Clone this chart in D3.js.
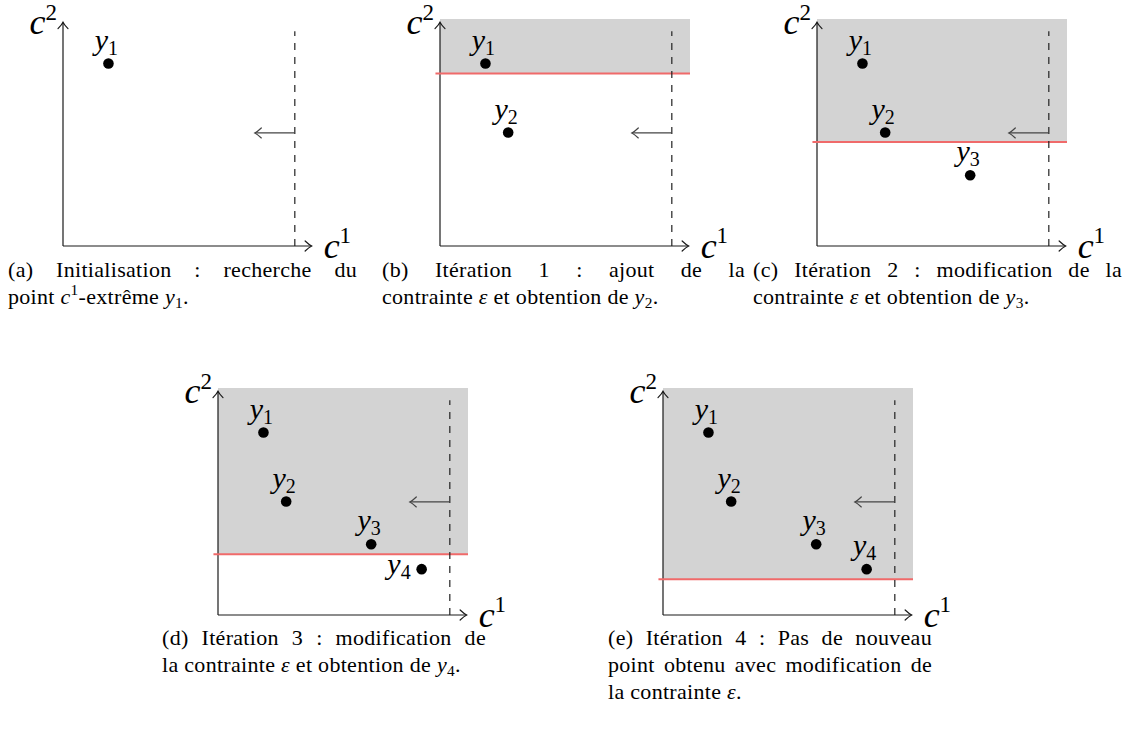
<!DOCTYPE html>
<html><head><meta charset="utf-8">
<script src="https://cdn.jsdelivr.net/npm/d3@7/dist/d3.min.js"></script>
</head><body style="margin:0;position:relative;width:1128px;height:731px;background:#fff">
<svg id="fig" width="1128" height="731" style="display:block"></svg>
<script>
// ---- data ----
const pointNames = ["y_1", "y_2", "y_3", "y_4"];
const pointC1 = [1.0, 1.5, 3.37, 4.48];
const pointC2 = [4.02, 2.5, 1.56, 1.01];
const panelIds = ["a", "b", "c", "d", "e"];
const pointsShown = [1, 2, 3, 4, 4];
const epsilonLevels = [null, 3.8, 2.29, 1.34, 0.79];
const labelSides = [
  ["above"],
  ["above", "above"],
  ["above", "above", "above"],
  ["above", "above", "above", "left"],
  ["above", "above", "above", "above"]
];
const boundC1 = 5.1;          // dashed line (c1 bound)
const arrowToC1 = 4.22;       // arrow tip
const arrowC2 = 2.49;         // arrow height
const axisLabelX = "c^1";
const axisLabelY = "c^2";
const captionLines = [
  ["(a) Initialisation : recherche du", "point $c^1$-extrême $y_1$."],
  ["(b) Itération 1 : ajout de la", "contrainte $ε$ et obtention de $y_2$."],
  ["(c) Itération 2 : modification de la", "contrainte $ε$ et obtention de $y_3$."],
  ["(d) Itération 3 : modification de", "la contrainte $ε$ et obtention de $y_4$."],
  ["(e) Itération 4 : Pas de nouveau", "point obtenu avec modification de", "la contrainte $ε$."]
];

// ---- layout ----
const origins = [[63, 246], [440, 246], [817, 246], [218, 615], [663, 615]];
const captionBoxes = [[8, 349, 277], [382, 363, 277], [753, 369, 277], [162, 324, 645], [608, 324, 645]];
const lineGap = 27;
const CAP = 22;
const FONT = '"Liberation Serif"';

const x = d3.scaleLinear().domain([0, 5.5]).range([0, 250]);
const y = d3.scaleLinear().domain([0, 5]).range([0, -227]);

const svg = d3.select("#fig");

function newText(parent, size) {
  return parent.append("text").style("font-family", FONT).style("font-size", size + "px")
    .style("font-style", "italic").attr("fill", "#000");
}
function chevron(g, tx, ty, angle, color) {
  g.append("path")
    .attr("d", "M -6.5,-5 Q -2.5,-1.2 0,0 Q -2.5,1.2 -6.5,5")
    .attr("transform", `translate(${tx},${ty}) rotate(${angle})`)
    .attr("fill", "none").attr("stroke", color).attr("stroke-width", 1.2)
    .attr("stroke-linecap", "round");
}
function mathLabel(sel, str, small, shift) {
  sel.text(str[0]);
  sel.append("tspan").style("font-family", FONT).style("font-size", small + "px")
    .style("font-style", "normal").attr("dy", str[1] === "_" ? shift : -shift).text(str[2]);
}

panelIds.forEach((id, p) => {
  const g = svg.append("g").attr("transform", `translate(${origins[p][0]},${origins[p][1]})`);
  const eps = epsilonLevels[p];
  if (eps !== null) {
    g.append("rect")
      .attr("x", x(0)).attr("y", y(5))
      .attr("width", x(5.5) - x(0)).attr("height", y(eps) - y(5))
      .attr("fill", "#d3d3d3");
  }
  g.append("line").attr("x1", x(0)).attr("y1", y(0)).attr("x2", x(5.47)).attr("y2", y(0))
    .attr("stroke", "#1a1a1a").attr("stroke-width", 1.2);
  g.append("line").attr("x1", x(0)).attr("y1", y(0)).attr("x2", x(0)).attr("y2", y(4.93))
    .attr("stroke", "#1a1a1a").attr("stroke-width", 1.2);
  chevron(g, x(5.47), y(0), 0, "#1a1a1a");
  chevron(g, x(0), y(4.93), -90, "#1a1a1a");
  if (eps !== null) {
    g.append("line").attr("x1", x(-0.1)).attr("y1", y(eps)).attr("x2", x(5.5)).attr("y2", y(eps))
      .attr("stroke", "#f06a6a").attr("stroke-width", 2);
  }
  g.append("line").attr("x1", x(boundC1)).attr("y1", y(0)).attr("x2", x(boundC1)).attr("y2", y(4.73))
    .attr("stroke", "#222").attr("stroke-width", 1.2).attr("stroke-dasharray", "7,7");
  g.append("line").attr("x1", x(boundC1)).attr("y1", y(arrowC2)).attr("x2", x(arrowToC1)).attr("y2", y(arrowC2))
    .attr("stroke", "#444").attr("stroke-width", 1.3);
  chevron(g, x(arrowToC1), y(arrowC2), 180, "#444");
  const lx = newText(g, 36).attr("x", x(5.47) + 12).attr("y", y(0) + 12);
  mathLabel(lx, axisLabelX, 23, 15);
  const ly = newText(g, 36).attr("x", x(0) - 6).attr("y", y(4.93) + 12).attr("text-anchor", "end");
  mathLabel(ly, axisLabelY, 23, 14);
  const n = pointsShown[p];
  const idx = d3.range(n);
  g.selectAll("circle.pt").data(idx).join("circle").attr("class", "pt")
    .attr("cx", i => x(pointC1[i])).attr("cy", i => y(pointC2[i])).attr("r", 5.3).attr("fill", "#000");
  idx.forEach(i => {
    const side = labelSides[p][i];
    const t = newText(g, 30);
    if (side === "above") {
      t.attr("x", x(pointC1[i]) - 2).attr("y", y(pointC2[i]) - 14).attr("text-anchor", "middle");
    } else {
      t.attr("x", x(pointC1[i]) - 11).attr("y", y(pointC2[i]) + 5).attr("text-anchor", "end");
    }
    mathLabel(t, pointNames[i], 20, 5);
  });
});

// ---- captions (HTML, browser-justified) ----
function toHtml(line) {
  return line.split("$").map((part, i) => {
    if (i % 2 === 0) return part;
    let out = "", j = 0;
    while (j < part.length) {
      const ch = part[j];
      if (ch === "_") { out += `<span style="font-size:70%;vertical-align:-0.29em;line-height:0">${part[j + 1]}</span>`; j += 2; }
      else if (ch === "^") { out += `<span style="font-size:70%;vertical-align:0.6em;line-height:0">${part[j + 1]}</span>`; j += 2; }
      else { out += `<i>${ch}</i>`; j++; }
    }
    return out;
  }).join("");
}
const capLayer = d3.select("body").append("div")
  .style("position", "absolute").style("left", "0px").style("top", "0px")
  .style("width", "1128px").style("height", "731px").style("pointer-events", "none");
captionLines.forEach((lines, c) => {
  const [x0, w, base] = captionBoxes[c];
  lines.forEach((line, li) => {
    const justify = li < lines.length - 1;
    capLayer.append("div")
      .style("position", "absolute")
      .style("left", x0 + "px")
      .style("top", (base + li * lineGap - 21) + "px")
      .style("width", w + "px")
      .style("height", lineGap + "px")
      .style("line-height", lineGap + "px")
      .style("font-family", FONT)
      .style("font-size", CAP + "px")
      .style("letter-spacing", "0.3px")
      .style("color", "#000")
      .style("text-align", justify ? "justify" : "left")
      .style("text-align-last", justify ? "justify" : "left")
      .html(toHtml(line));
  });
});
</script>
</body></html>
